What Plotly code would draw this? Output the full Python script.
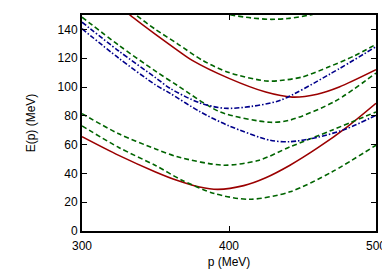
import plotly.graph_objects as go

# Red solid curves
r1_p = [300, 325, 350, 365, 380, 392.5, 410, 425, 441.5, 460, 480, 500]
r1_e = [65.5, 52.5, 41, 35, 30.5, 28.9, 31.5, 37, 45.7, 57.5, 72, 88.7]
r2_p = [325, 332.6, 350, 365, 375, 400, 425, 443, 460, 475, 500]
r2_e = [157, 150, 136.5, 125.5, 118.5, 106, 96.5, 93, 95, 100, 112]

# Green dashed curves
g1_p = [385, 400, 415, 428, 440, 455, 470]
g1_e = [154, 150.3, 148, 147, 147.6, 150, 154]
g2_p = [325, 336.7, 350, 365, 382, 400, 425, 435, 450, 468, 485, 500]
g2_e = [160, 150, 140, 130, 118.5, 110, 104.2, 104.5, 107, 114, 121.5, 129.6]
g3_p = [300, 325, 350, 365, 394, 428, 441.5, 472, 500]
g3_e = [148.5, 129, 111, 101, 82.7, 75.5, 77, 90, 109.7]
g4_p = [300, 325, 350, 365, 396, 420, 441.5, 470, 500]
g4_e = [81.5, 67.5, 57, 51.5, 45.7, 49, 58.4, 70, 82.7]
g5_p = [300, 325, 350, 368, 390, 414, 441.5, 470, 500]
g5_e = [73, 58, 45.5, 35.3, 26, 22, 27.2, 41, 59.6]

# Blue dash-dot curves
b1_p = [300, 325, 350, 360, 380, 397, 415, 435, 468.7, 500]
b1_e = [145, 125, 106.5, 99, 89, 85.2, 86.5, 90.8, 109, 128]
b2_p = [300, 325, 350, 360, 380, 400, 428, 441.5, 460, 480, 500]
b2_e = [140.5, 120, 101.5, 95.6, 83, 73, 63, 62, 65, 71, 80.4]

x_ticks = [300, 400, 500]
y_ticks = [0, 20, 40, 60, 80, 100, 120, 140]

RED = "#9b0000"
GREEN = "#006400"
BLUE = "#00008b"

fig = go.Figure()

def add(p, e, color, dash):
    fig.add_trace(go.Scatter(x=p, y=e, mode="lines",
                             line=dict(color=color, width=1.6, dash=dash, shape="spline", smoothing=0.8),
                             showlegend=False, hoverinfo="skip"))

add(r1_p, r1_e, RED, "solid")
add(r2_p, r2_e, RED, "solid")
for p, e in [(g1_p, g1_e), (g2_p, g2_e), (g3_p, g3_e), (g4_p, g4_e), (g5_p, g5_e)]:
    add(p, e, GREEN, "5px,3px")
add(b1_p, b1_e, BLUE, "5px,2px,1.5px,2px")
add(b2_p, b2_e, BLUE, "5px,2px,1.5px,2px")

font = dict(family="Liberation Sans, Arial, sans-serif", size=12, color="black")
axis_common = dict(showline=True, linecolor="black", linewidth=2, mirror="ticks",
                   ticks="inside", ticklen=5, tickcolor="black", tickwidth=1,
                   showgrid=False, zeroline=False, automargin=False,
                   tickfont=font, title_font=font)

fig.update_xaxes(range=[300, 500], tickvals=x_ticks, title_text="p (MeV)", title_standoff=5,
                 ticklabelstandoff=3, **axis_common)
fig.update_yaxes(range=[0, 150], tickvals=y_ticks, title_text="E(p) (MeV)", title_standoff=19,
                 **axis_common)

# page body has an 8px default margin; figure is sized so the plot area lands where the reference has it
fig.update_layout(width=382, height=265,
                  margin=dict(l=74, r=14, t=7, b=42),
                  plot_bgcolor="white", paper_bgcolor="white")

fig.write_html("out.html")
